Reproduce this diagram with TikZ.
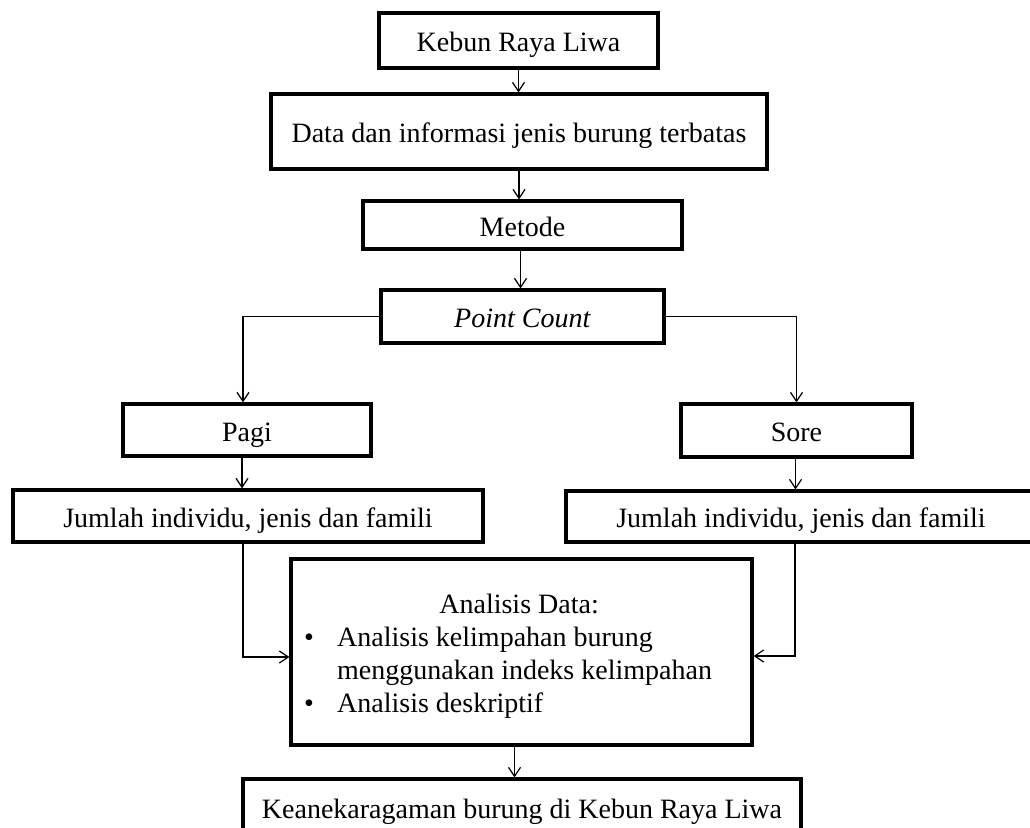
\documentclass[tikz,border=0pt]{standalone}
\usepackage{fontspec}
\setmainfont{Liberation Serif}
\usetikzlibrary{arrows.meta}
\begin{document}
\begin{tikzpicture}[x=1pt,y=-1pt,
  box/.style={draw, line width=3.2pt, inner sep=0pt, text height=28pt, text depth=6pt, font=\fontsize{28}{33}\selectfont},
  arr/.style={line width=1.2pt, -{Straight Barb[length=9pt,width=12pt]}},
  txt/.style={inner sep=0pt, font=\fontsize{28}{33}\selectfont}]
\useasboundingbox (0,0) rectangle (1030,827);
\fill[white] (0,0) rectangle (1030,827);
\clip (0,0) rectangle (1030,827);
\node[box, minimum width=279pt, minimum height=55pt] (kebun) at (518.5,40.5) {Kebun Raya Liwa};
\node[box, minimum width=496pt, minimum height=75pt] (data) at (519,131.5) {Data dan informasi jenis burung terbatas};
\node[box, minimum width=319pt, minimum height=48pt] (metode) at (522.5,225) {Metode};
\node[box, minimum width=283pt, minimum height=53pt] (point) at (522.5,316.5) {\textit{Point Count}};
\node[box, minimum width=248pt, minimum height=52pt] (pagi) at (247,430) {Pagi};
\node[box, minimum width=231pt, minimum height=53pt] (sore) at (796.5,430.5) {Sore};
\node[box, minimum width=470pt, minimum height=52pt] (jl) at (248,516) {Jumlah individu, jenis dan famili};
\node[box, minimum width=470pt, minimum height=51pt] (jr) at (801,516.5) {Jumlah individu, jenis dan famili};
\node[box, minimum width=461pt, minimum height=186pt, text height=, text depth=] (an) at (521.5,652) {};
\node[box, minimum width=558pt, minimum height=56pt] (kean) at (522,807) {Keanekaragaman burung di Kebun Raya Liwa};
\node[txt, anchor=west, align=left] (antx) at (304,656) {\begin{tabular}{@{}p{33pt}@{}l@{}}\multicolumn{2}{@{}c@{}}{\hspace*{22pt}Analisis Data:}\\
\textbullet & Analisis kelimpahan burung\\
 & menggunakan indeks kelimpahan\\
\textbullet & Analisis deskriptif\end{tabular}};
\draw[arr] (kebun.south) -- (kebun.south |- data.north);
\draw[arr] (data.south) -- (data.south |- metode.north);
\draw[arr] ([xshift=-2pt]metode.south) -- ([xshift=-2pt]metode.south |- point.north);
\draw[arr] (point.west) -| ([xshift=-4pt]pagi.north);
\draw[arr] (point.east) -| (sore.north);
\draw[arr] ([xshift=-5pt]pagi.south) -- ([xshift=-5pt]pagi.south |- jl.north);
\draw[arr] ([xshift=-1pt]sore.south) -- ([xshift=-1pt]sore.south |- jr.north);
\draw[arr] ([xshift=-5pt]jl.south) |- ([yshift=-5pt]an.west);
\draw[arr] ([xshift=-6pt]jr.south) |- ([yshift=-4pt]an.east);
\draw[arr] ([xshift=-7pt]an.south) -- ([xshift=-7pt]an.south |- kean.north);
\end{tikzpicture}
\end{document}
